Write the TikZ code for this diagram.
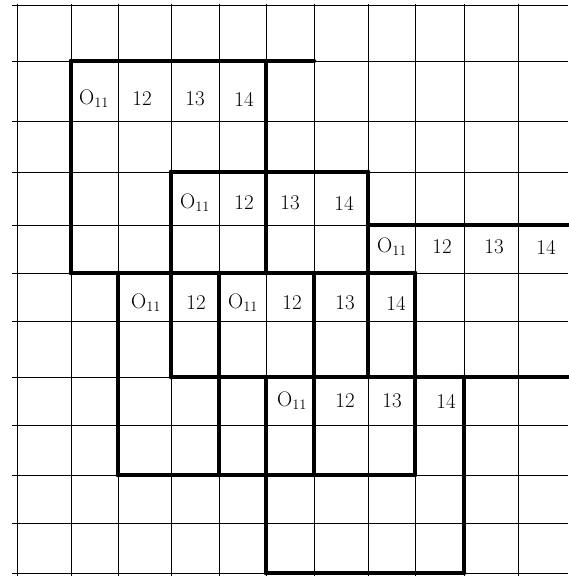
\documentclass[tikz,border=0pt]{standalone}
\usepackage{tikz}
\usetikzlibrary{positioning}

\begin{document}
\begin{tikzpicture}[x=1pt, y=-1pt, every node/.style={font=\fontsize{21}{24}\selectfont},
    gridline/.style={line width=0.9pt},
    wall/.style={line width=4.5pt, line cap=round},
    cell/.style={inner sep=0pt}]
    \useasboundingbox (0,0) rectangle (568,578);
    % corners of the grid, p<column>-<row>
    \foreach \x [count=\i from 0] in {17,71,118,171,219,266,314,368,415,464,518,568}
        \foreach \y [count=\j from 0] in {5,61,121,172,225,273,321,377,425,475,523,573}
            \coordinate (p\i-\j) at (\x,\y);
    % thin grid
    \foreach \x in {17,71,118,171,219,266,314,368,415,464,518}
        \draw[gridline] (\x,4) -- (\x,576);
    \foreach \y in {5,61,121,172,225,273,321,377,425,475,523,573}
        \draw[gridline] (12,\y) -- (568,\y);
    % thick outlines
    \draw[wall] (p1-1) -- (p6-1);
    \draw[wall] (p3-3) -- (p7-3);
    \draw[wall] (p7-4) -- (p11-4);
    \draw[wall] (p1-5) -- (p8-5);
    \draw[wall] (p3-7) -- (p11-7);
    \draw[wall] (p2-9) -- (p8-9);
    \draw[wall] (p5-11) -- (p9-11);
    \draw[wall] (p1-1) -- (p1-5);
    \draw[wall] (p5-1) -- (p5-5);
    \draw[wall] (p3-3) -- (p3-7);
    \draw[wall] (p7-3) -- (p7-7);
    \draw[wall] (p2-5) -- (p2-9);
    \draw[wall] (p4-5) -- (p4-9);
    \draw[wall] (p6-5) -- (p6-9);
    \draw[wall] (p8-5) -- (p8-9);
    \draw[wall] (p5-7) -- (p5-11);
    \draw[wall] (p9-7) -- (p9-11);
    % labels
    \foreach \x/\t [count=\k] in {94/O$_{11}$, 142/12, 195/13, 244/14}
        \node[cell] (a\k) at (\x,99) {\t};
    \foreach \x/\t [count=\k] in {195/O$_{11}$, 244/12, 290/13, 344/14}
        \node[cell] (b\k) at (\x,203) {\t};
    \foreach \x/\t [count=\k] in {392/O$_{11}$, 442/12, 494/13, 546/14}
        \node[cell] (c\k) at (\x,247) {\t};
    \foreach \x/\t [count=\k] in {146/O$_{11}$, 196/12, 243/O$_{11}$, 292/12, 345/13, 396/14}
        \node[cell] (d\k) at (\x,303) {\t};
    \foreach \x/\t [count=\k] in {292/O$_{11}$, 345/12, 392/13, 446/14}
        \node[cell] (e\k) at (\x,401) {\t};
\end{tikzpicture}
\end{document}
